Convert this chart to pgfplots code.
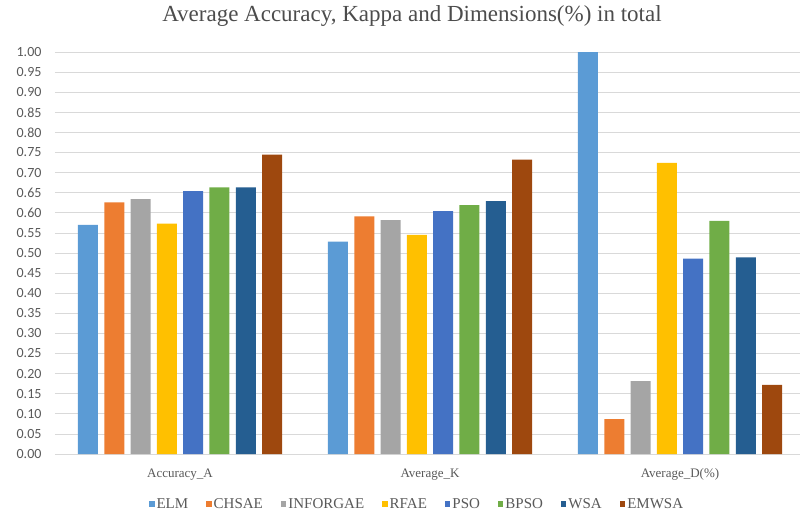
\documentclass[border=0pt]{standalone}
\usepackage{pgfplots}
\pgfplotsset{compat=1.18}
\usepackage{fontspec}
\setmainfont{Liberation Serif}
\newfontfamily\calib{Carlito}
\definecolor{cELM}{HTML}{5B9BD5}
\definecolor{cCHSAE}{HTML}{ED7D31}
\definecolor{cINFORGAE}{HTML}{A5A5A5}
\definecolor{cRFAE}{HTML}{FFC000}
\definecolor{cPSO}{HTML}{4472C4}
\definecolor{cBPSO}{HTML}{70AD47}
\definecolor{cWSA}{HTML}{255E91}
\definecolor{cEMWSA}{HTML}{9E480E}
\definecolor{tickgray}{HTML}{595959}
\definecolor{gridgray}{HTML}{D9D9D9}

\begin{document}
\begin{tikzpicture}
\path[use as bounding box] (0,0) rectangle (800pt,515pt);
\begin{axis}[
    at={(55pt,61pt)}, anchor=south west,
    scale only axis, width=745pt, height=402pt,
    ybar=6.3pt, bar width=20pt,
    xmin=-0.5, xmax=2.48, ymin=0, ymax=1,
    xtick={0,1,2},
    xticklabels={Accuracy\_A,Average\_K,Average\_D(\%)},
    xticklabel style={font=\fontsize{13}{13}\selectfont, text=tickgray, yshift=-7pt},
    ytick distance=0.05,
    yticklabel style={font=\calib\fontsize{14}{14}\selectfont, text=tickgray, xshift=-10pt,
        /pgf/number format/.cd, fixed, fixed zerofill, precision=2, assume math mode=true},
    ymajorgrids,
    grid style={color=gridgray, line width=0.8pt},
    axis line style={draw=none},
    tick style={draw=none},
    legend image code/.code={\fill[#1, draw=none] (0pt,-3pt) rectangle (5.5pt,3pt);},
    legend style={at={(0.486,-0.1244)}, anchor=center, legend columns=-1,
        draw=none, fill=none, font=\fontsize{15}{15}\selectfont, text=tickgray,
        /tikz/every even column/.append style={column sep=16pt},
        /tikz/every odd column/.append style={column sep=0pt}},
]
\addplot[fill=cELM, draw=none] coordinates {(0,0.570) (1,0.528) (2,1.000)};
\addplot[fill=cCHSAE, draw=none] coordinates {(0,0.626) (1,0.591) (2,0.087)};
\addplot[fill=cINFORGAE, draw=none] coordinates {(0,0.634) (1,0.582) (2,0.181)};
\addplot[fill=cRFAE, draw=none] coordinates {(0,0.573) (1,0.545) (2,0.724)};
\addplot[fill=cPSO, draw=none] coordinates {(0,0.654) (1,0.604) (2,0.486)};
\addplot[fill=cBPSO, draw=none] coordinates {(0,0.663) (1,0.619) (2,0.580)};
\addplot[fill=cWSA, draw=none] coordinates {(0,0.663) (1,0.629) (2,0.489)};
\addplot[fill=cEMWSA, draw=none] coordinates {(0,0.745) (1,0.732) (2,0.172)};
\legend{ELM,CHSAE,INFORGAE,RFAE,PSO,BPSO,WSA,EMWSA}
\end{axis}
\node[font=\fontsize{23}{23}\selectfont, text=tickgray!85!black] at (412pt,499pt)
    {Average Accuracy, Kappa and Dimensions(\%) in total};
\end{tikzpicture}
\end{document}
